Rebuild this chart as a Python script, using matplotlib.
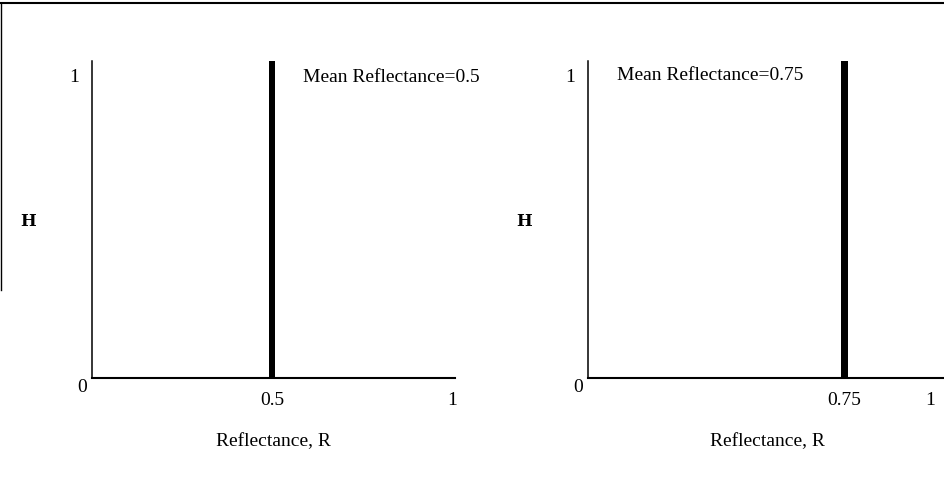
import matplotlib
matplotlib.use("Agg")
import matplotlib.pyplot as plt
from matplotlib.lines import Line2D

plt.rcParams['font.family'] = ['Liberation Serif', 'DejaVu Serif']

mean_reflectance = [0.5, 0.75]
bar_height = [1, 1]
xtick_values = [[0.5, 1], [0.75, 1]]
xtick_labels = [["0.5", "1"], ["0.75", "1"]]
annotations = ["Mean Reflectance=0.5", "Mean Reflectance=0.75"]

FS = 14
W, H = 944, 482
fig = plt.figure(figsize=(W / 100, H / 100), dpi=100)

# axes in pixel coords: (left px, right px, x=1 px)
panels = [(92, 455, 452), (588, 944, 930)]
bottom_px, top_px = 378, 61

for i, (lpx, rpx, onepx) in enumerate(panels):
    ax = fig.add_axes([lpx / W, (H - bottom_px) / H, (rpx - lpx) / W, (bottom_px - top_px) / H])
    scale = onepx - lpx
    ax.set_xlim(0, (rpx - lpx) / scale)
    ax.set_ylim(0, 1)
    ax.bar([mean_reflectance[i]], [bar_height[i]], width=6.5 / scale, color='black', linewidth=0)
    for s in ['top', 'right']:
        ax.spines[s].set_visible(False)
    ax.spines['left'].set_linewidth(1.1)
    ax.spines['bottom'].set_linewidth(1.5)
    ax.set_xticks(xtick_values[i])
    ax.set_xticklabels(xtick_labels[i], fontsize=FS)
    ax.tick_params(axis='x', length=0, pad=10)
    ax.set_yticks([])
    axw = rpx - lpx
    axh = bottom_px - top_px
    # corner labels
    ax.text(-18 / axw, 1.0 - 16 / axh, "1", transform=ax.transAxes,
            ha='center', va='center', fontsize=FS)
    ax.text(-10 / axw, -9 / axh, "0", transform=ax.transAxes,
            ha='center', va='center', fontsize=FS)
    # H label
    fig.text((lpx - 64) / W, (H - 221) / H, "H", ha='center', va='center', fontsize=12,
             family=['DejaVu Serif'], fontweight='bold')
    # x label
    cx = 273 if i == 0 else 767
    fig.text(cx / W, (H - 442) / H, "Reflectance, R", ha='center', va='center', fontsize=FS)

fig.text(303 / W, (H - 78) / H, annotations[0], ha='left', va='center', fontsize=FS)
fig.text(617 / W, (H - 76) / H, annotations[1], ha='left', va='center', fontsize=FS)

# scan border lines
fig.add_artist(Line2D([0, 1], [(H - 3) / H, (H - 3) / H], transform=fig.transFigure, color='black', linewidth=1.5))
fig.add_artist(Line2D([1 / W, 1 / W], [(H - 3) / H, (H - 290) / H], transform=fig.transFigure, color='black', linewidth=1.0))

fig.savefig("out.png", dpi=100)
